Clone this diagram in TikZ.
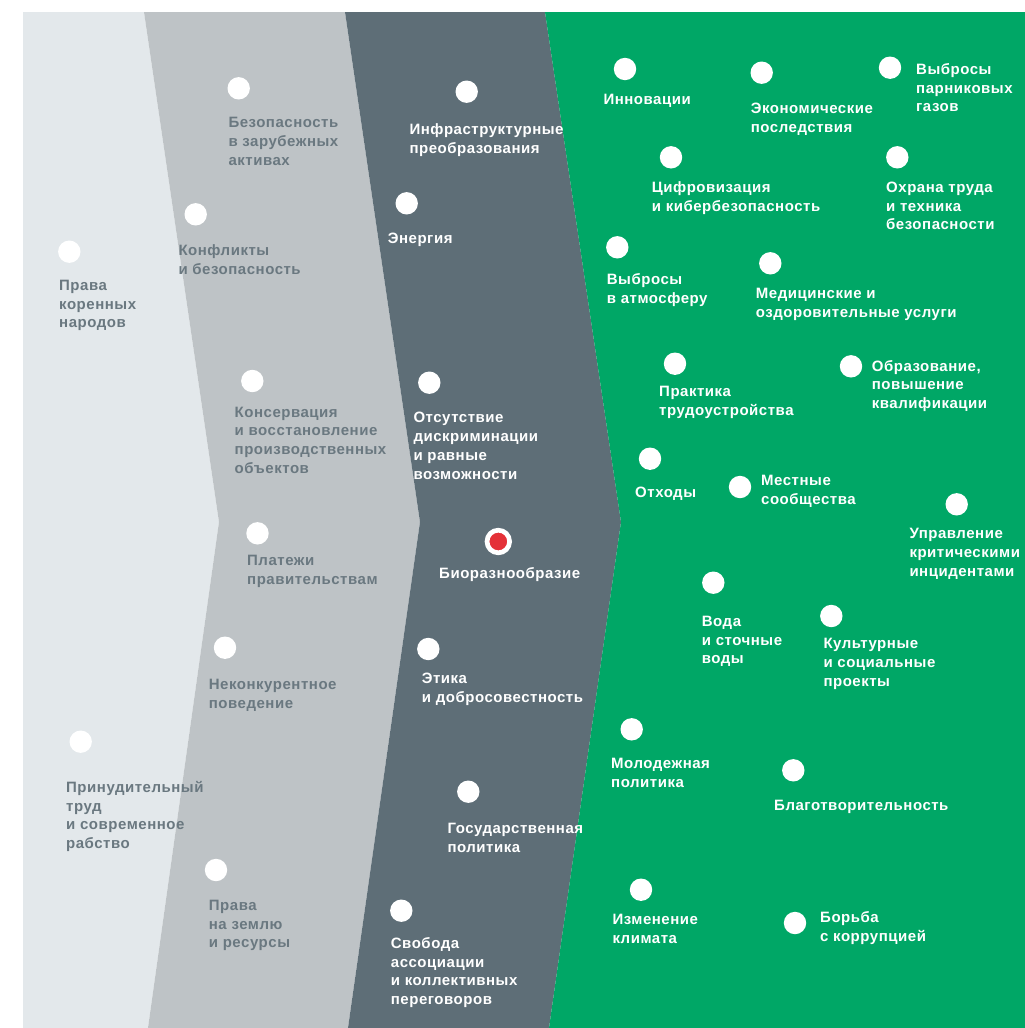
\documentclass[tikz,border=0pt]{standalone}
\usepackage{fontspec}
\setmainfont{Liberation Sans}[LetterSpace=3.5]
\usepackage{tikz}
\usetikzlibrary{positioning}
\definecolor{bandA}{HTML}{E3E8EB}
\definecolor{bandB}{HTML}{BEC3C6}
\definecolor{bandC}{HTML}{5E6E77}
\definecolor{bandD}{HTML}{00A766}
\definecolor{txtgrey}{HTML}{6A7880}
\definecolor{dotred}{HTML}{E43138}
\tikzstyle{dot} = [fill=white, circle, inner sep=0pt, minimum size=22.4pt]
\tikzstyle{reddot} = [fill=dotred, draw=white, line width=4.7pt, circle, inner sep=0pt, minimum size=22.6pt]
\tikzstyle{lbl} = [anchor=north west, inner sep=0pt, align=left, font=\bfseries\fontsize{15}{18.7}\selectfont]
\tikzstyle{glbl} = [lbl, text=txtgrey]
\tikzstyle{wlbl} = [lbl, text=white]

\begin{document}
\begin{tikzpicture}[x=1pt,y=-1pt]
                        \useasboundingbox[fill=white] (0,0) rectangle (1025,1028);
                        % bands
                        \fill[bandA] (23,12) -- (144,12) -- (219,522) -- (148,1028) -- (23,1028) -- cycle;
                        \fill[bandB] (144,12) -- (345,12) -- (420,522) -- (348,1028) -- (148,1028) -- (219,522) -- cycle;
                        \fill[bandC] (345,12) -- (545,12) -- (621,522) -- (549,1028) -- (348,1028) -- (420,522) -- cycle;
                        \fill[bandD] (545,12) -- (1025,12) -- (1025,1028) -- (549,1028) -- (621,522) -- cycle;

                        % first band
                        \node[dot](d1) at (69.3,251.7) {};
                        \node[glbl](t1) at (59,280) {Права\\коренных\\народов};
                        \node[dot](d2) at (80.7,741.7) {};
                        \node[glbl](t2) at (66,781) {Принудительный\\труд\\и современное\\рабство};

                        % second band
                        \node[dot](d3) at (238.7,88.3) {};
                        \node[glbl](t3) at (228.3,117.3) {Безопасность\\в зарубежных\\активах};
                        \node[dot](d4) at (195.7,214.3) {};
                        \node[glbl](t4) at (178.3,244.3) {Конфликты\\и безопасность};
                        \node[dot](d5) at (252.3,381) {};
                        \node[glbl](t5) at (234.5,406.7) {Консервация\\и восстановление\\производственных\\объектов};
                        \node[dot](d6) at (257.5,533.3) {};
                        \node[glbl](t6) at (247,555.3) {Платежи\\правительствам};
                        \node[dot](d7) at (225,647.7) {};
                        \node[glbl](t7) at (208.7,679) {Неконкурентное\\поведение};
                        \node[dot](d8) at (216,870) {};
                        \node[glbl](t8) at (208.7,900) {Права\\на землю\\и ресурсы};

                        % third band
                        \node[dot](d9) at (466.7,91.7) {};
                        \node[wlbl](t9) at (409.3,123.3) {Инфраструктурные\\преобразования};
                        \node[dot](d10) at (406.7,203.3) {};
                        \node[wlbl](t10) at (387.7,232.7) {Энергия};
                        \node[dot](d11) at (429.3,382.7) {};
                        \node[wlbl](t11) at (413.3,412.3) {Отсутствие\\дискриминации\\и равные\\возможности};
                        \node[reddot](d12) at (498.3,541.5) {};
                        \node[wlbl](t12) at (439,567) {Биоразнообразие};
                        \node[dot](d13) at (428.3,649) {};
                        \node[wlbl](t13) at (421.7,673.3) {Этика\\и добросовестность};
                        \node[dot](d14) at (468.3,791.7) {};
                        \node[wlbl](t14) at (447.3,823.3) {Государственная\\политика};
                        \node[dot](d15) at (401.3,910.7) {};
                        \node[wlbl](t15) at (390.7,937.3) {Свобода\\ассоциации\\и коллективных\\переговоров};

                        % green band
                        \node[dot](d16) at (625,69) {};
                        \node[wlbl](t16) at (603.3,94.3) {Инновации};
                        \node[dot](d17) at (761.7,72.7) {};
                        \node[wlbl](t17) at (750.7,103.3) {Экономические\\последствия};
                        \node[dot](d18) at (890,67.7) {};
                        \node[wlbl](t18) at (916,63.3) {Выбросы\\парниковых\\газов};
                        \node[dot](d19) at (671,157.3) {};
                        \node[wlbl](t19) at (651.7,181.7) {Цифровизация\\и кибербезопасность};
                        \node[dot](d20) at (897.3,157.3) {};
                        \node[wlbl](t20) at (886,181.7) {Охрана труда\\и техника\\безопасности};
                        \node[dot](d21) at (617.3,247.3) {};
                        \node[wlbl](t21) at (606.7,273.3) {Выбросы\\в атмосферу};
                        \node[dot](d22) at (770.3,263.3) {};
                        \node[wlbl](t22) at (755.7,288.3) {Медицинские и\\оздоровительные услуги};
                        \node[dot](d23) at (675,363.7) {};
                        \node[wlbl](t23) at (659,386) {Практика\\трудоустройства};
                        \node[dot](d24) at (851,366.3) {};
                        \node[wlbl](t24) at (871.7,360) {Образование,\\повышение\\квалификации};
                        \node[dot](d25) at (650,458.7) {};
                        \node[wlbl](t25) at (635,487.3) {Отходы};
                        \node[dot](d26) at (740,487) {};
                        \node[wlbl](t26) at (761,475) {Местные\\сообщества};
                        \node[dot](d27) at (956.7,504.3) {};
                        \node[wlbl](t27) at (909.3,528.3) {Управление\\критическими\\инцидентами};
                        \node[dot](d28) at (713.3,582.7) {};
                        \node[wlbl](t28) at (701.7,616) {Вода\\и сточные\\воды};
                        \node[dot](d29) at (831.3,616) {};
                        \node[wlbl](t29) at (823.3,638.3) {Культурные\\и социальные\\проекты};
                        \node[dot](d30) at (631.7,729.3) {};
                        \node[wlbl](t30) at (611,758.3) {Молодежная\\политика};
                        \node[dot](d31) at (793.3,770.3) {};
                        \node[wlbl](t31) at (774,800) {Благотворительность};
                        \node[dot](d32) at (641,889.7) {};
                        \node[wlbl](t32) at (612.3,914) {Изменение\\климата};
                        \node[dot](d33) at (795,923) {};
                        \node[wlbl](t33) at (820,911.7) {Борьба\\с коррупцией};
                    \end{tikzpicture}
\end{document}
